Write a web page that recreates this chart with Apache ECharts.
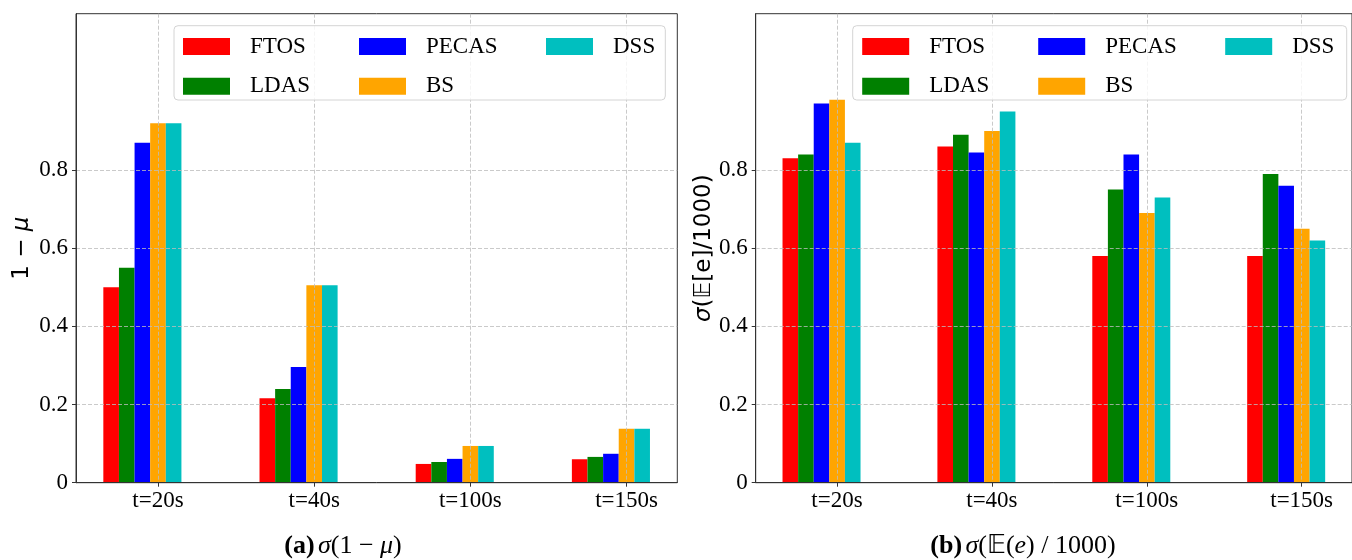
<!DOCTYPE html>
<html>
<head>
<meta charset="utf-8">
<script src="https://cdn.jsdelivr.net/npm/echarts@6/dist/echarts.min.js"></script>
<style>
html,body{margin:0;padding:0;background:#fff;}
#c{width:1352px;height:560px;}
</style>
</head>
<body>
<div id="c"></div>
<script>
// ---------- data ----------
const categories = ['t=20s', 't=40s', 't=100s', 't=150s'];
const seriesNames = ['FTOS', 'LDAS', 'PECAS', 'BS', 'DSS'];
const yTicks = [0, 0.2, 0.4, 0.6, 0.8];

// panel (a): sigma(1 - mu)
const aFTOS  = [0.50, 0.216, 0.048, 0.060];
const aLDAS  = [0.55, 0.240, 0.053, 0.066];
const aPECAS = [0.87, 0.296, 0.061, 0.074];
const aBS    = [0.92, 0.505, 0.094, 0.138];
const aDSS   = [0.92, 0.505, 0.094, 0.138];

// panel (b): sigma(E(e)/1000)
const bFTOS  = [0.83, 0.86, 0.58, 0.58];
const bLDAS  = [0.84, 0.89, 0.75, 0.79];
const bPECAS = [0.97, 0.845, 0.84, 0.76];
const bBS    = [0.98, 0.90, 0.69, 0.65];
const bDSS   = [0.87, 0.95, 0.73, 0.62];

// ---------- styling / layout ----------
const colors = ['#ff0000', '#008000', '#0000ff', '#ffa500', '#00bfbf'];
const X_MIN = -0.525, X_MAX = 3.325, Y_MAX = 1.2;
const BAR_UNIT = 0.1;          // bar width in x units
const GROUP_SHIFT = -0.1;      // group centre relative to tick
const SERIF = '"Liberation Serif", "Times New Roman", serif';
const SANS = '"DejaVu Sans", sans-serif';
const gridA = {left: 76, top: 13.7, width: 601.3, height: 469};
const gridB = {left: 755.7, top: 13.7, width: 600.6, height: 469};

const chart = echarts.init(document.getElementById('c'), null, {renderer: 'canvas'});

function xAxisFor(gi) {
  return {
    type: 'value', gridIndex: gi, min: X_MIN, max: X_MAX, z: 3,
    axisLine: {show: true, onZero: false, lineStyle: {color: '#333', width: 1}},
    axisTick: {show: true, customValues: [0, 1, 2, 3], length: 4, lineStyle: {color: '#333'}},
    axisLabel: {
      customValues: [0, 1, 2, 3], margin: 7,
      formatter: v => categories[Math.round(v)] || '',
      fontFamily: SERIF, fontSize: 23, color: '#000'
    },
    splitLine: {show: true, lineStyle: {color: '#bdbdbd', type: [4, 2], width: 0.8}}
  };
}
function yAxisFor(gi, name, rich, gap) {
  return {
    type: 'value', gridIndex: gi, min: 0, max: Y_MAX, z: 3,
    name: name, nameLocation: 'middle', nameGap: gap, nameRotate: 90,
    nameTextStyle: {rich: rich, fontFamily: SANS, fontSize: 23, color: '#000'},
    axisLine: {show: true, onZero: false, lineStyle: {color: '#333', width: 1}},
    axisTick: {show: true, customValues: yTicks, length: 4, lineStyle: {color: '#333'}},
    axisLabel: {
      customValues: yTicks, margin: 8,
      formatter: v => (v === 0 ? '0' : v.toFixed(1)),
      fontFamily: SERIF, fontSize: 23, color: '#000'
    },
    splitLine: {show: true, lineStyle: {color: '#bdbdbd', type: [4, 2], width: 0.8}}
  };
}

const dataA = [aFTOS, aLDAS, aPECAS, aBS, aDSS];
const dataB = [bFTOS, bLDAS, bPECAS, bBS, bDSS];
const series = [];
function addSeries(sets, gi, grid) {
  const bw = grid.width / (X_MAX - X_MIN) * BAR_UNIT;
  sets.forEach((vals, s) => {
    series.push({
      name: seriesNames[s], type: 'bar', xAxisIndex: gi, yAxisIndex: gi,
      barWidth: bw, barGap: '0%',
      itemStyle: {color: colors[s]},
      data: vals.map((v, i) => [i + GROUP_SHIFT, v])
    });
  });
}
addSeries(dataA, 0, gridA);
addSeries(dataB, 1, gridB);

const legendCols = [[['FTOS', 'LDAS'], 9], [['PECAS', 'BS'], 185], [['DSS'], 372]];
const boxes = [{x: 174, y: 25.7, w: 491.3, h: 74.3}, {x: 852.7, y: 25.7, w: 494, h: 74.3}];
const legends = [];
boxes.forEach(b => {
  legendCols.forEach(([names, off]) => {
    legends.push({
      data: names, orient: 'vertical', left: b.x + off + (b === boxes[1] ? 0.5 : 0), top: 35,
      padding: 0, itemGap: 16.7, itemWidth: 47, itemHeight: 17, icon: 'rect', z: 11,
      selectedMode: false,
      textStyle: {fontFamily: SERIF, fontSize: 23, color: '#000', lineHeight: 17, padding: [0, 0, 0, 15]}
    });
  });
});

const capRich = {
  b: {fontFamily: SERIF, fontSize: 26, fontWeight: 'bold', fill: '#000'},
  i: {fontFamily: SERIF, fontSize: 26, fontStyle: 'italic', fill: '#000'},
  r: {fontFamily: SERIF, fontSize: 26, fill: '#000'}
};

chart.setOption({
  animation: false,
  backgroundColor: '#fff',
  color: colors,
  grid: [
    Object.assign({show: true, borderColor: '#333', borderWidth: 1, backgroundColor: 'transparent'}, gridA),
    Object.assign({show: true, borderColor: '#333', borderWidth: 1, backgroundColor: 'transparent'}, gridB)
  ],
  xAxis: [xAxisFor(0), xAxisFor(1)],
  yAxis: [
    yAxisFor(0, '{r|1 − }{i|μ}', {
      r: {fontFamily: SANS, fontSize: 23, color: '#000'},
      i: {fontFamily: SANS, fontSize: 23, fontStyle: 'italic', color: '#000'}
    }, 42),
    yAxisFor(1, '{i|σ}{r|(𝔼[e]/1000)}', {
      r: {fontFamily: SANS, fontSize: 23, color: '#000'},
      i: {fontFamily: SANS, fontSize: 23, fontStyle: 'italic', color: '#000'}
    }, 40)
  ],
  legend: legends,
  series: series,
  graphic: [
    ...boxes.map(b => ({
      type: 'rect', z: 10, silent: true,
      shape: {x: b.x, y: b.y, width: b.w, height: b.h, r: 4},
      style: {fill: 'rgba(255,255,255,0.8)', stroke: '#d4d4d4', lineWidth: 1}
    })),
    {type: 'text', z: 10, x: 343, y: 546, style: {
      text: '{b|(a)} {i|σ}{r|(1 − }{i|μ}{r|)}', rich: capRich,
      align: 'center', verticalAlign: 'middle'}},
    {type: 'text', z: 10, x: 1023, y: 546, style: {
      text: '{b|(b)} {i|σ}{r|(𝔼(}{i|e}{r|) / 1000)}', rich: capRich,
      align: 'center', verticalAlign: 'middle'}}
  ]
});
</script>
</body>
</html>
